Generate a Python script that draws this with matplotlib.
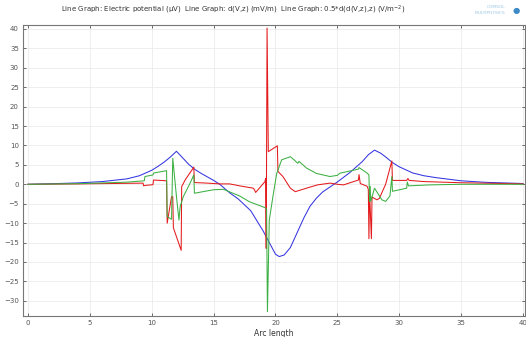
import matplotlib
matplotlib.use("Agg")
import matplotlib.pyplot as plt

# electric potential (blue)
blue_x = [0, 2, 4, 6, 8, 9, 10, 10.5, 11, 11.5, 12, 12.5, 13, 13.5, 14, 15, 15.5, 16.3, 17, 18, 19, 19.5,
          20, 20.3, 20.7, 21.2, 21.7, 22.3, 22.8, 23.3, 23.8, 24.4, 25, 26, 27, 27.5, 28, 28.5, 29, 29.4, 30,
          31.1, 32, 33, 35, 37, 40]
blue_y = [0, 0.15, 0.35, 0.7, 1.4, 2.2, 3.6, 4.6, 5.7, 7.0, 8.5, 6.8, 5.1, 3.8, 2.8, 1.0, 0.0, -2.2, -3.8,
          -6.8, -12.0, -15.0, -18.0, -18.6, -18.2, -16.3, -12.8, -8.6, -5.6, -3.6, -2.0, -0.7, 0.6, 3.0, 5.8,
          7.6, 8.8, 8.0, 6.8, 5.7, 4.5, 2.9, 2.2, 1.7, 0.9, 0.5, 0.2]

# d(V,z) (red)
red_x = [0, 4, 8, 9.3, 9.35, 9.45, 10.1, 10.15, 11.2, 11.25, 11.6, 11.7, 11.75, 12.0, 12.38, 12.42,
         12.7, 13.4, 13.45, 14.5, 15.5, 16.3, 17.1, 18.2, 18.3, 18.4, 19.15, 19.2, 19.25, 19.32, 19.42,
         20.15, 20.2, 20.6, 21.2, 21.6, 22.0, 22.5, 23.4, 24.4, 25.0, 25.5, 26.7, 26.75, 26.85, 27.4,
         27.5, 27.55, 27.6, 27.75, 27.8, 28.2, 28.4, 28.7, 28.9, 29.4, 29.45, 30.6, 30.7, 30.8, 32,
         35, 40]
red_y = [0, 0.1, 0.25, 0.3, -0.4, -0.3, -0.1, 1.1, 0.9, -10.0, -3.2, -3.2, -11.2, -13.5, -17.0, -0.6,
         1.1, 4.4, 0.45, 0.3, 0.1, 0.1, -0.4, -1.0, -1.4, -2.1, 0.7, 1.5, -16.5, 40.2, 8.4,
         9.9, 3.3, 2.0, -1.0, -1.9, -1.5, -1.0, -0.15, 0.3, 0.0, -0.15, 1.1, 2.5, 0.2, -0.5,
         -1.3, -14.0, -2.0, -14.0, -3.3, -4.0, -3.6, -1.4, 0.0, 6.0, 1.0, 1.0, 1.5, 1.0, 0.7,
         0.4, 0.1]

# 0.5*d(d(V,z),z) (green)
green_x = [0, 4, 8, 9.4, 9.45, 10.1, 10.15, 11.2, 11.25, 11.6, 11.7, 11.8, 12.0, 12.2, 12.3, 12.55,
           13.1, 13.4, 13.45, 15.0, 15.8, 17.1, 17.9, 19.15, 19.28, 19.35, 19.5, 19.8, 20.1, 20.5,
           21.2, 21.5, 21.8, 21.9, 22.5, 23.3, 24.4, 25.0, 25.2, 26.7, 26.75, 27.4, 27.55, 27.6,
           27.65, 27.7, 28.0, 28.2, 28.6, 28.9, 29.25, 29.4, 29.45, 30.6, 30.65, 30.75, 32.5, 35, 40]
green_y = [0, 0.15, 0.55, 0.9, 2.0, 2.4, 2.9, 3.5, -8.3, -9.0, 6.7, 3.4, -3.2, -9.2, -5.7, -3.2,
           0.3, 2.4, -2.3, -1.4, -1.3, -3.0, -4.5, -6.0, -6.4, -32.8, -9.2, -3.0, 2.8, 6.3,
           7.1, 6.3, 5.4, 5.9, 4.2, 2.8, 2.0, 2.3, 2.85, 3.9, 4.3, 2.9, 2.4, -4.4,
           -0.5, -4.4, -1.0, -2.0, -4.0, -4.4, -3.0, 2.0, -1.8, -1.0, 0.6, -0.4, -0.15, 0.0, 0.0]

x_ticks = [0, 5, 10, 15, 20, 25, 30, 35, 40]
y_ticks = [-30, -25, -20, -15, -10, -5, 0, 5, 10, 15, 20, 25, 30, 35, 40]

fig = plt.figure(figsize=(5.26, 3.37), dpi=100)
ax = fig.add_axes([23/526, 21/337, 502/526, 291/337])

ax.plot(blue_x, blue_y, color='#3535e0', lw=0.75)
ax.plot(red_x, red_y, color='#e41a1c', lw=0.75)
ax.plot(green_x, green_y, color='#3cb043', lw=0.75)

ax.set_xlim(-0.4, 40.16)
ax.set_ylim(-33.9, 41.0)
ax.set_xticks(x_ticks)
ax.set_yticks(y_ticks)
ax.grid(True, color='#ebebeb', lw=0.6)
ax.set_axisbelow(True)
ax.tick_params(direction='in', length=2.5, width=0.6, labelsize=5, colors='#555555',
               top=True, right=True, pad=3)
for s in ax.spines.values():
    s.set_color('#777777')
    s.set_linewidth(0.8)
ax.set_xlabel('Arc length', fontsize=5.5, color='#333333', labelpad=2)

fig.text(233/526, 1 - 10/337,
         'Line Graph: Electric potential (μV)  Line Graph: d(V,z) (mV/m)  Line Graph: 0.5*d(d(V,z),z) (V/m$^{-2}$)',
         fontsize=5, ha='center', va='center', color='#333333')

# COMSOL logo
fig.text(505/526, 1 - 7/337, 'COMSOL', fontsize=3.2, ha='right', va='center', color='#9cc6e4')
fig.text(505/526, 1 - 13/337, 'MULTIPHYSICS', fontsize=3.2, ha='right', va='center', color='#9cc6e4')
fig.text(516/526, 1 - 11/337, '●', fontsize=6, ha='center', va='center', color='#3d8ac7')

fig.savefig('out.png', dpi=100)
